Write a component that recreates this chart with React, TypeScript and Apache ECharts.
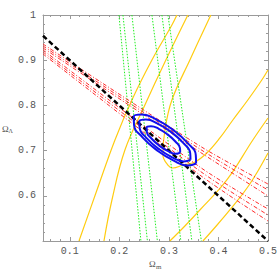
import React, { useEffect, useRef } from "react";
import * as echarts from "echarts";

// Axis ticks
const xMajor = [0.1, 0.2, 0.3, 0.4, 0.5];
const xMinor = [0.06, 0.08, 0.12, 0.14, 0.16, 0.18, 0.22, 0.24, 0.26, 0.28, 0.32, 0.34, 0.36, 0.38, 0.42, 0.44, 0.46, 0.48];
const yMajor = [0.6, 0.7, 0.8, 0.9, 1];
const yMinor = [0.52, 0.54, 0.56, 0.58, 0.62, 0.64, 0.66, 0.68, 0.72, 0.74, 0.76, 0.78, 0.82, 0.84, 0.86, 0.88, 0.92, 0.94, 0.96, 0.98];

// Flat universe line (Ω_Λ = 1 − Ω_m)
const flatLine = [[0.046, 0.954], [0.5, 0.5]];

// Red dash-dot contours
const redX = [0.046, 0.3625, 0.5];
const red1 = [0.9358, 0.7102, 0.6261];
const red2 = [0.9314, 0.7035, 0.6128];
const red3 = [0.927, 0.6969, 0.5996];
const red4 = [0.9226, 0.6637, 0.5708];
const red5 = [0.9181, 0.6549, 0.5575];
const red6 = [0.9137, 0.646, 0.5442];

// Green dotted contours: [x at top (Ω_Λ=1), x at bottom (Ω_Λ=0.5)]
const green1 = [0.1992, 0.2436];
const green2 = [0.2073, 0.2567];
const green3 = [0.2254, 0.2768];
const green4 = [0.2658, 0.3242];
const green5 = [0.2859, 0.3464];
const green6 = [0.298, 0.3656];

// Yellow contours
const yellowOuterL = [[0.1186, 0.5], [0.1549, 0.6128], [0.1912, 0.7235], [0.2254, 0.8119], [0.2658, 0.9004], [0.3061, 0.9779], [0.3162, 1]];
const yellowMidL = [[0.169, 0.5], [0.1851, 0.5907], [0.2113, 0.7013], [0.2516, 0.8009], [0.292, 0.896], [0.3383, 1]];
const yellowInner = [[0.3847, 1], [0.3424, 0.9004], [0.3061, 0.8119], [0.292, 0.7456], [0.2879, 0.6903], [0.298, 0.6681], [0.3081, 0.6615], [0.3283, 0.6681], [0.3525, 0.6748], [0.3766, 0.6947], [0.4029, 0.7279], [0.4291, 0.7677], [0.4593, 0.8119], [0.4875, 0.8562], [0.5, 0.8783]];
const yellowMidR = [[0.302, 0.5], [0.3323, 0.5332], [0.3625, 0.5686], [0.417, 0.635], [0.4694, 0.7235], [0.5, 0.7721]];
const yellowOuterR = [[0.3686, 0.5], [0.3867, 0.5221], [0.423, 0.5686], [0.4633, 0.6261], [0.5, 0.6947]];

// Blue combined contours
const blueOuter = [[0.3549, 0.6715], [0.3543, 0.69], [0.3371, 0.7175], [0.3077, 0.7465], [0.2742, 0.7692], [0.2454, 0.7799], [0.2291, 0.7754], [0.2297, 0.7569], [0.2468, 0.7294], [0.2762, 0.7004], [0.3097, 0.6777], [0.3385, 0.667], [0.3549, 0.6715]];
const blueMid = [[0.3436, 0.6796], [0.343, 0.6947], [0.3289, 0.717], [0.3047, 0.7409], [0.2773, 0.7597], [0.2537, 0.7686], [0.2404, 0.765], [0.241, 0.75], [0.2551, 0.7277], [0.2793, 0.7038], [0.3067, 0.685], [0.3303, 0.6761], [0.3436, 0.6796]];
const blueInner = [[0.3228, 0.6956], [0.3224, 0.7053], [0.3131, 0.7201], [0.2974, 0.7358], [0.2795, 0.7482], [0.2639, 0.7538], [0.2551, 0.7513], [0.2555, 0.7414], [0.2648, 0.7268], [0.2805, 0.7111], [0.2984, 0.6987], [0.3139, 0.6929], [0.3228, 0.6956]];

const X_MIN = 0.046;
const X_MAX = 0.5;
const Y_MIN = 0.5;
const Y_MAX = 1;

const FRAME = "#9a9a9a";
const LABEL = "#555555";

function line(data: number[][], color: string, width: number, type: any, smooth: number | boolean, z: number) {
  return {
    type: "line",
    data,
    xAxisIndex: 0,
    yAxisIndex: 0,
    showSymbol: false,
    symbol: "none",
    smooth,
    silent: true,
    z,
    lineStyle: { color, width, type },
  };
}

export default function App() {
  const ref = useRef<HTMLDivElement>(null);
  useEffect(() => {
    if (!ref.current) return;
    const chart = echarts.init(ref.current, null, { renderer: "svg" });
    const redSeries = [red1, red2, red3, red4, red5, red6].map((r) =>
      line(redX.map((x, i) => [x, r[i]]), "#ff2a2a", 1, [4, 2, 1, 2], 0.3, 3)
    );
    const greenSeries = [green1, green2, green3, green4, green5, green6].map((g) =>
      line([[g[0], Y_MAX], [g[1], Y_MIN]], "#22ee22", 1, [1.5, 1.5], false, 2)
    );
    const yellowSeries = [yellowOuterL, yellowMidL, yellowInner, yellowMidR, yellowOuterR].map((d) =>
      line(d, "#ffcc11", 1.2, "solid", 0.4, 1)
    );
    const blueSeries = [blueOuter, blueMid, blueInner].map((d) => line(d, "#1010ee", 2, "solid", 0.5, 6));

    const tickAxisX = (position: string, values: number[], len: number, showLine: boolean, showLabel: boolean) => ({
      type: "value",
      min: X_MIN,
      max: X_MAX,
      position,
      axisLine: { show: showLine, onZero: false, lineStyle: { color: FRAME, width: 1 } },
      axisTick: { show: true, inside: true, length: len, customValues: values, lineStyle: { color: FRAME, width: 1 } },
      axisLabel: showLabel
        ? {
            show: true,
            customValues: values,
            formatter: (v: number) => v.toFixed(1),
            color: LABEL,
            fontFamily: "Liberation Mono",
            fontSize: 10,
            margin: 5,
          }
        : { show: false },
      splitLine: { show: false },
    });
    const tickAxisY = (position: string, values: number[], len: number, showLine: boolean, showLabel: boolean) => ({
      type: "value",
      min: Y_MIN,
      max: Y_MAX,
      position,
      axisLine: { show: showLine, onZero: false, lineStyle: { color: FRAME, width: 1 } },
      axisTick: { show: true, inside: true, length: len, customValues: values, lineStyle: { color: FRAME, width: 1 } },
      axisLabel: showLabel
        ? {
            show: true,
            customValues: values,
            formatter: (v: number) => (Math.abs(v - 1) < 1e-9 ? "1" : v.toFixed(1)),
            color: LABEL,
            fontFamily: "Liberation Mono",
            fontSize: 10,
            margin: 7,
          }
        : { show: false },
      splitLine: { show: false },
    });

    chart.setOption({
      animation: false,
      backgroundColor: "#ffffff",
      grid: { left: 43, top: 15, width: 225, height: 226, containLabel: false },
      xAxis: [
        tickAxisX("bottom", xMajor, 4, true, true),
        tickAxisX("top", xMajor, 4, true, false),
        tickAxisX("bottom", xMinor, 2, false, false),
        tickAxisX("top", xMinor, 2, false, false),
      ],
      yAxis: [
        tickAxisY("left", yMajor, 4, true, true),
        tickAxisY("right", yMajor, 4, true, false),
        tickAxisY("left", yMinor, 2, false, false),
        tickAxisY("right", yMinor, 2, false, false),
      ],
      graphic: [
        { type: "text", left: 149, top: 259, style: { text: "Ω", fill: LABEL, font: '9px "Liberation Serif"' } },
        { type: "text", left: 156, top: 263, style: { text: "m", fill: LABEL, font: '7px "Liberation Serif"' } },
        { type: "text", left: 2, top: 124, style: { text: "Ω", fill: LABEL, font: '9px "Liberation Serif"' } },
        { type: "text", left: 8.5, top: 128, style: { text: "Λ", fill: LABEL, font: '6px "Liberation Serif"' } },
      ],
      series: [
        ...yellowSeries,
        ...greenSeries,
        ...redSeries,
        line(flatLine, "#000000", 2.5, [5, 3], false, 4),
        ...blueSeries,
      ],
    });
    return () => chart.dispose();
  }, []);
  return <div ref={ref} style={{ position: "absolute", left: 0, top: 0, width: 280, height: 280, background: "#fff" }} />;
}
